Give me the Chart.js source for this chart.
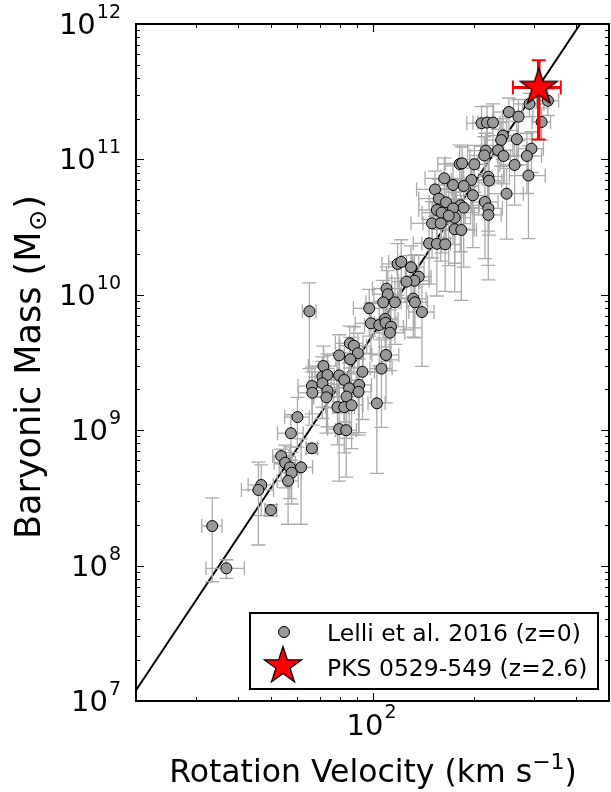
<!DOCTYPE html>
<html>
<head>
<meta charset="utf-8">
<script src="https://cdn.jsdelivr.net/npm/chart.js@4.4.1/dist/chart.umd.min.js"></script>
<style>
  html, body { margin: 0; padding: 0; background: #ffffff; }
  #wrap { position: relative; width: 611px; height: 792px; }
  canvas { display: block; }
</style>
</head>
<body>
<div id="wrap"><canvas id="c" width="611" height="792" style="width:611px;height:792px"></canvas></div>
<script>
// ---------------- DATA ----------------
// Lelli et al. 2016 (z=0): rotation velocity (km/s), baryonic mass (Msun), and their errors
const lelliVel = [291,330,253,270,316,210,218,227,243,240,267,295,286,216,214,235,244,263,289,200,181,184,220,221,196,163,
  173,186,153,249,198,157,165,215,182,186,173,155,160,220,220,175,168,150,159,175,183,147,155,164,
  118.6,121.6,130,137,133,126,110,111,107.6,116.5,132,133.5,140,97.8,65.1,98.9,104.7,109,109.3,113.4,112.6,85.7,88.1,90.5,79.7,85.9,109.6,106.3,
  71.6,93.4,79.7,71.1,73.6,82.5,66.2,71.1,91.3,85.3,66.4,73.6,90.9,73.1,83.8,103,78.8,82.5,86.7,79.7,83.6,60,57.4,66.2,53.7,55.2,
  57,61.5,57.7,56.3,46.9,46,50.1,33.6,37];
const lelliMass = [2.57e11,2.71e11,2.24e11,2.07e11,1.89e11,1.85e11,1.87e11,1.87e11,1.50e11,1.39e11,1.41e11,1.20e11,1.06e11,1.16e11,1.07e11,1.17e11,1.06e11,9.1e10,7.6e10,9.2e10,9.25e10,9.35e10,7.45e10,6.96e10,7.05e10,7.25e10,
  6.47e10,6.36e10,6.0e10,5.58e10,5.43e10,5.13e10,4.82e10,4.85e10,4.58e10,4.40e10,4.35e10,4.23e10,4.04e10,4.35e10,3.89e10,3.71e10,3.84e10,3.37e10,3.37e10,3.05e10,3.01e10,2.40e10,2.38e10,2.36e10,
  1.69e10,1.75e10,1.60e10,1.36e10,1.27e10,1.25e10,1.11e10,1.01e10,8.8e9,8.8e9,9.36e9,8.8e9,7.46e9,7.95e9,7.55e9,6.16e9,5.98e9,6.63e9,6.22e9,5.81e9,5.25e9,4.38e9,4.21e9,3.70e9,3.57e9,3.34e9,3.59e9,2.85e9,
  2.98e9,2.70e9,2.54e9,2.48e9,2.56e9,2.35e9,2.12e9,2.22e9,2.16e9,2.04e9,1.89e9,1.96e9,1.92e9,1.75e9,1.77e9,1.58e9,1.48e9,1.48e9,1.53e9,1.02e9,1.0e9,1.25e9,9.5e8,7.35e8,6.45e8,5.75e8,
  5.32e8,5.32e8,4.85e8,4.22e8,3.94e8,3.62e8,2.57e8,1.96e8,9.55e7];
const lelliVelErr = [30,25,25,28,20,20,20,22,25,22,30,25,30,25,20,25,25,25,35,20,25,20,25,20,25,20,
  20,20,18,30,22,20,18,20,25,20,22,18,20,22,20,20,20,20,18,25,20,15,15,18,
  12,10,12,12,14,12,10,10,12,10,12,12,12,10,3,10,10,10,8,10,12,8,8,8,8,8,10,8,
  7,8,7,6,6,7,6,6,8,7,6,6,8,6,7,6,6,6,7,6,6,5,5,2.5,3,4,
  4,5,4,4,4,5,2,2.3,4.8];
const lelliMassErr = [0.5e11,0.6e11,0.6e11,0.7e11,0.5e11,0.6e11,0.6e11,0.7e11,0.5e11,0.5e11,0.5e11,0.4e11,0.5e11,0.4e11,0.4e11,0.5e11,0.4e11,4.5e10,5.0e10,3.5e10,3.5e10,3.0e10,4.5e10,4.2e10,3.0e10,3.0e10,
  2.5e10,3.0e10,2.2e10,3.0e10,3.2e10,2.0e10,2.2e10,3.0e10,2.5e10,2.8e10,2.0e10,1.8e10,2.0e10,2.7e10,2.6e10,2.0e10,2.2e10,1.5e10,1.6e10,2.0e10,2.1e10,1.2e10,1.4e10,1.3e10,
  0.7e10,0.8e10,0.7e10,0.6e10,0.7e10,0.7e10,0.5e10,0.5e10,4.0e9,4.5e9,4.5e9,4.0e9,4.5e9,3.0e9,4.7e9,2.5e9,3.0e9,2.5e9,3.0e9,2.5e9,2.5e9,1.5e9,1.6e9,1.5e9,1.5e9,1.5e9,2.0e9,1.8e9,
  1.2e9,1.5e9,1.2e9,1.0e9,1.1e9,1.2e9,0.8e9,1.0e9,1.2e9,1.1e9,0.8e9,0.9e9,1.0e9,0.8e9,0.9e9,1.1e9,0.7e9,0.8e9,0.8e9,0.6e9,0.55e9,0.5e9,3.5e8,0.6e8,0.8e8,2.0e8,
  2.2e8,3.3e8,2.0e8,2.2e8,1.6e8,2.2e8,0.25e8,1.2e8,1.5e7];

// PKS 0529-549 (z=2.6)
const pksVel = [310];
const pksMass = [3.4e11];
const pksVelErr = [50];
const pksMassErr = [2.0e11];

// Baryonic Tully-Fisher relation line (end points)
const fitVel = [20, 411];
const fitMass = [1.2e7, 1e12];

// Axes
const xRange = [20, 500];
const yRange = [1e7, 1e12];
const xMajorTicks = [100];
const xMinorTicks = [20,30,40,50,60,70,80,90,200,300,400];
const yMajorTicks = [1e7,1e8,1e9,1e10,1e11,1e12];
const yMinorTicks = [2e7,3e7,4e7,5e7,6e7,7e7,8e7,9e7,2e8,3e8,4e8,5e8,6e8,7e8,8e8,9e8,2e9,3e9,4e9,5e9,6e9,7e9,8e9,9e9,
  2e10,3e10,4e10,5e10,6e10,7e10,8e10,9e10,2e11,3e11,4e11,5e11,6e11,7e11,8e11,9e11];
const xTickLabels = [['10','2']];
const yTickLabels = [['10','7'],['10','8'],['10','9'],['10','10'],['10','11'],['10','12']];
const legendLabels = ['Lelli et al. 2016 (z=0)', 'PKS 0529-549 (z=2.6)'];

// ---------------- DRAWING ----------------
const FONT = '"DejaVu Sans", "Liberation Sans", sans-serif';

function makeStar(R, fill, stroke, lw) {
  const c = document.createElement('canvas');
  const s = Math.ceil(2 * R + 2 * lw + 4);
  c.width = s; c.height = s;
  const g = c.getContext('2d');
  const cx = s / 2, cy = s / 2, r = R * 0.381966;
  g.beginPath();
  for (let k = 0; k < 10; k++) {
    const a = -Math.PI / 2 + k * Math.PI / 5;
    const rr = (k % 2 === 0) ? R : r;
    g.lineTo(cx + rr * Math.cos(a), cy + rr * Math.sin(a));
  }
  g.closePath();
  g.fillStyle = fill; g.fill();
  g.lineWidth = lw; g.strokeStyle = stroke; g.lineJoin = 'miter'; g.stroke();
  return c;
}
const starImg = makeStar(19.5, '#ff0000', '#000000', 1.3);

function drawErrBars(chart, vel, mass, vErr, mErr, color, wx, wy, wcap, cap) {
  const ctx = chart.ctx, xs = chart.scales.x, ys = chart.scales.y, a = chart.chartArea;
  ctx.save();
  ctx.beginPath(); ctx.rect(a.left, a.top, a.right - a.left, a.bottom - a.top); ctx.clip();
  ctx.strokeStyle = color; ctx.lineCap = 'butt';
  for (let i = 0; i < vel.length; i++) {
    const px = xs.getPixelForValue(vel[i]), py = ys.getPixelForValue(mass[i]);
    const x1 = xs.getPixelForValue(vel[i] - vErr[i]), x2 = xs.getPixelForValue(vel[i] + vErr[i]);
    const lo = Math.max(mass[i] - mErr[i], 1e6);
    const y1 = ys.getPixelForValue(mass[i] + mErr[i]), y2 = ys.getPixelForValue(lo);
    ctx.lineWidth = wx;
    ctx.beginPath(); ctx.moveTo(x1, py); ctx.lineTo(x2, py); ctx.stroke();
    ctx.lineWidth = wy;
    ctx.beginPath(); ctx.moveTo(px, y1); ctx.lineTo(px, y2); ctx.stroke();
    ctx.lineWidth = wcap;
    ctx.beginPath();
    ctx.moveTo(x1, py - cap); ctx.lineTo(x1, py + cap);
    ctx.moveTo(x2, py - cap); ctx.lineTo(x2, py + cap);
    ctx.moveTo(px - cap, y1); ctx.lineTo(px + cap, y1);
    ctx.moveTo(px - cap, y2); ctx.lineTo(px + cap, y2);
    ctx.stroke();
  }
  ctx.restore();
}

const errorBarPlugin = {
  id: 'errbars',
  beforeDatasetDraw(chart, args) {
    if (args.index === 1) drawErrBars(chart, lelliVel, lelliMass, lelliVelErr, lelliMassErr, '#aaaaaa', 1.3, 1.3, 1.3, 7);
    if (args.index === 2) drawErrBars(chart, pksVel, pksMass, pksVelErr, pksMassErr, '#ff0000', 3, 3.5, 2, 7);
  }
};

function drawSupLabel(ctx, base, exp, x, baseY, expY, align, baseSize, expSize) {
  ctx.font = baseSize + 'px ' + FONT;
  const wb = ctx.measureText(base).width;
  ctx.font = expSize + 'px ' + FONT;
  const we = ctx.measureText(exp).width;
  const total = wb + 1 + we;
  let left = align === 'right' ? x - total : x - total / 2;
  ctx.textAlign = 'left'; ctx.textBaseline = 'alphabetic';
  ctx.font = baseSize + 'px ' + FONT; ctx.fillText(base, left, baseY);
  ctx.font = expSize + 'px ' + FONT; ctx.fillText(exp, left + wb + 1, expY);
}

const framePlugin = {
  id: 'frame',
  afterDraw(chart) {
    const ctx = chart.ctx, xs = chart.scales.x, ys = chart.scales.y, a = chart.chartArea;
    ctx.save();
    ctx.fillStyle = '#000'; ctx.strokeStyle = '#000';
    const tick = (v, len, w, isX) => {
      ctx.lineWidth = w; ctx.beginPath();
      if (isX) {
        const p = Math.round(xs.getPixelForValue(v)) + 0.5;
        ctx.moveTo(p, a.bottom); ctx.lineTo(p, a.bottom - len);
        ctx.moveTo(p, a.top); ctx.lineTo(p, a.top + len);
      } else {
        const p = Math.round(ys.getPixelForValue(v)) + 0.5;
        ctx.moveTo(a.left, p); ctx.lineTo(a.left + len, p);
        ctx.moveTo(a.right, p); ctx.lineTo(a.right - len, p);
      }
      ctx.stroke();
    };
    xMinorTicks.forEach(v => tick(v, 4, 1, true));
    xMajorTicks.forEach(v => tick(v, 8, 1.2, true));
    yMinorTicks.forEach(v => tick(v, 4, 1, false));
    yMajorTicks.forEach(v => tick(v, 8, 1.2, false));
    ctx.lineWidth = 2;
    ctx.strokeRect(a.left, a.top, a.right - a.left, a.bottom - a.top);
    // tick labels
    xMajorTicks.forEach((v, i) => {
      const p = xs.getPixelForValue(v);
      drawSupLabel(ctx, xTickLabels[i][0], xTickLabels[i][1], p - 1, a.bottom + 34, a.bottom + 17, 'center', 29, 19);
    });
    yMajorTicks.forEach((v, i) => {
      const p = ys.getPixelForValue(v);
      drawSupLabel(ctx, yTickLabels[i][0], yTickLabels[i][1], a.left - 15, p + 10, p - 6, 'right', 29, 19);
    });
    // x axis title
    ctx.textBaseline = 'alphabetic'; ctx.textAlign = 'left';
    const tSize = 31.5, sSize = 22;
    ctx.font = tSize + 'px ' + FONT;
    const p1 = 'Rotation Velocity (km s', p3 = ')';
    const w1 = ctx.measureText(p1).width, w3 = ctx.measureText(p3).width;
    ctx.font = sSize + 'px ' + FONT;
    const p2 = '\u22121';
    const w2 = ctx.measureText(p2).width;
    const tw = w1 + w2 + w3;
    let xl = 373 - tw / 2;
    const by = 782;
    ctx.font = tSize + 'px ' + FONT; ctx.fillText(p1, xl, by);
    ctx.font = sSize + 'px ' + FONT; ctx.fillText(p2, xl + w1, by - 13);
    ctx.font = tSize + 'px ' + FONT; ctx.fillText(p3, xl + w1 + w2, by);
    // y axis title (rotated)
    ctx.save();
    ctx.translate(40, 367);
    ctx.rotate(-Math.PI / 2);
    const ySize = 35, ySub = 25;
    ctx.font = ySize + 'px ' + FONT;
    const q1 = 'Baryonic Mass (M', q3 = ')';
    const v1 = ctx.measureText(q1).width, v3 = ctx.measureText(q3).width;
    ctx.font = ySub + 'px ' + FONT;
    const q2 = '\u2299';
    const v2 = ctx.measureText(q2).width;
    const tv = v1 + v2 + v3 + 2;
    let yl = -tv / 2;
    ctx.font = ySize + 'px ' + FONT; ctx.fillText(q1, yl, 0);
    ctx.font = ySub + 'px ' + FONT; ctx.fillText(q2, yl + v1 + 1, 6);
    ctx.font = ySize + 'px ' + FONT; ctx.fillText(q3, yl + v1 + v2 + 2, 0);
    ctx.restore();
    // legend
    const L = { x: 250, y: 613, w: 348, h: 76 };
    ctx.fillStyle = '#fff'; ctx.fillRect(L.x, L.y, L.w, L.h);
    ctx.lineWidth = 2; ctx.strokeStyle = '#000'; ctx.strokeRect(L.x, L.y, L.w, L.h);
    ctx.beginPath(); ctx.arc(284, 632, 5.5, 0, Math.PI * 2);
    ctx.fillStyle = '#999999'; ctx.fill(); ctx.lineWidth = 1; ctx.strokeStyle = '#000'; ctx.stroke();
    ctx.drawImage(starImg, 283 - starImg.width / 2, 666 - starImg.height / 2);
    ctx.fillStyle = '#000'; ctx.font = '23.5px ' + FONT; ctx.textAlign = 'left'; ctx.textBaseline = 'alphabetic';
    ctx.fillText(legendLabels[0], 327, 641);
    ctx.fillText(legendLabels[1], 327, 676);
    ctx.restore();
  }
};

new Chart(document.getElementById('c'), {
  type: 'scatter',
  data: {
    datasets: [
      {
        type: 'line',
        label: 'BTFR',
        data: fitVel.map((v, i) => ({ x: v, y: fitMass[i] })),
        borderColor: '#000000', borderWidth: 2, pointRadius: 0, fill: false, tension: 0, order: 3
      },
      {
        label: legendLabels[0],
        data: lelliVel.map((v, i) => ({ x: v, y: lelliMass[i] })),
        backgroundColor: '#999999', borderColor: '#000000', borderWidth: 1, pointRadius: 5.5, order: 2
      },
      {
        label: legendLabels[1],
        data: pksVel.map((v, i) => ({ x: v, y: pksMass[i] })),
        pointStyle: starImg, pointRadius: 19, order: 1
      }
    ]
  },
  options: {
    responsive: false, animation: false, devicePixelRatio: 1, events: [],
    layout: { autoPadding: false, padding: { left: 136, right: 2, top: 24, bottom: 91 } },
    scales: {
      x: { type: 'logarithmic', min: xRange[0], max: xRange[1], display: false },
      y: { type: 'logarithmic', min: yRange[0], max: yRange[1], display: false }
    },
    plugins: { legend: { display: false }, tooltip: { enabled: false } }
  },
  plugins: [errorBarPlugin, framePlugin]
});
</script>
</body>
</html>
